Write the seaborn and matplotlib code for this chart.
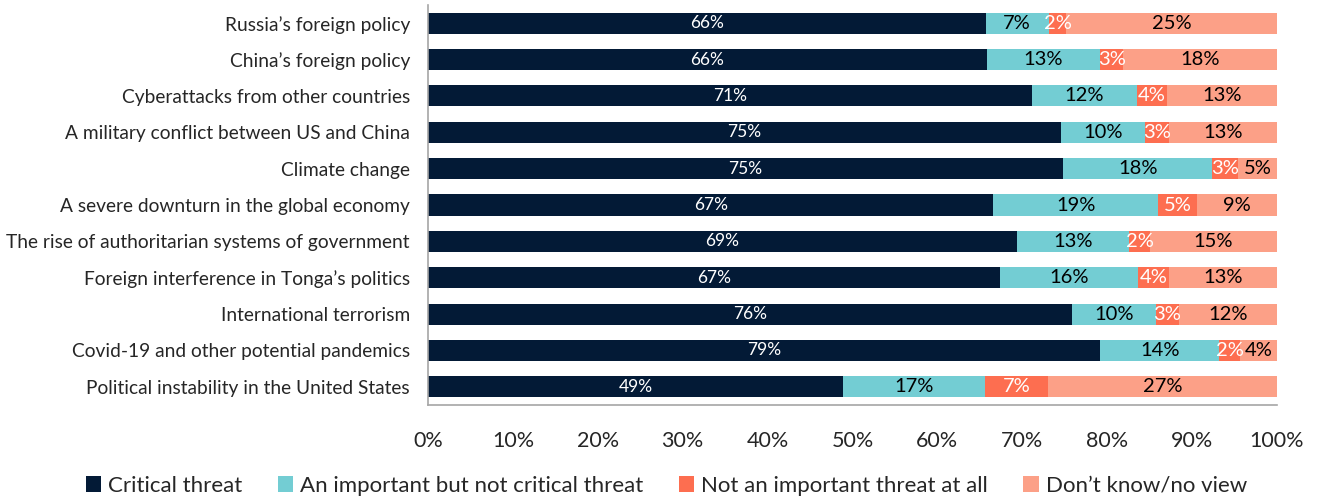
import numpy as np
import pandas as pd
import matplotlib
matplotlib.use("Agg")
import matplotlib.pyplot as plt
import seaborn as sns
from matplotlib.patches import Patch

threats = [
    "Russia\u2019s foreign policy",
    "China\u2019s foreign policy",
    "Cyberattacks from other countries",
    "A military conflict between US and China",
    "Climate change",
    "A severe downturn in the global economy",
    "The rise of authoritarian systems of government",
    "Foreign interference in Tonga\u2019s politics",
    "International terrorism",
    "Covid-19 and other potential pandemics",
    "Political instability in the United States",
]
critical = [65.7, 65.8, 71.1, 74.6, 74.8, 66.6, 69.4, 67.4, 75.9, 79.2, 48.9]
important = [7.4, 13.4, 12.4, 9.9, 17.6, 19.4, 13.2, 16.2, 9.8, 14.0, 16.7]
not_important = [2.1, 2.7, 3.6, 2.8, 3.0, 4.6, 2.4, 3.7, 2.7, 2.4, 7.4]
dont_know = [24.8, 18.1, 12.9, 12.7, 4.6, 9.4, 15.0, 12.7, 11.6, 4.4, 27.0]

series_names = [
    "Critical threat",
    "An important but not critical threat",
    "Not an important threat at all",
    "Don\u2019t know/no view",
]
series_values = [critical, important, not_important, dont_know]
colors = ["#031a36", "#73cdd3", "#fd6e50", "#fca087"]
label_colors = ["white", "black", "white", "black"]
label_sizes = [12.5, 14.5, 14.5, 14.5]
tick_labels = [f"{v}%" for v in range(0, 101, 10)]

sns.set_theme(style="white")
plt.rcParams["font.family"] = ["Lato", "DejaVu Sans"]

df = pd.DataFrame({"threat": threats})
for name, vals in zip(series_names, series_values):
    df[name] = vals
cum = df[series_names].cumsum(axis=1)

fig = plt.figure(figsize=(13.17, 5.01), dpi=100)
ax = fig.add_axes([428 / 1317, 1 - 405 / 501, 849 / 1317, 400 / 501])

# Draw cumulative totals from the outermost layer inward so each segment shows
for name, col in reversed(list(zip(series_names, colors))):
    sns.barplot(data=cum.assign(threat=df["threat"]), x=name, y="threat",
                orient="h", color=col, width=0.58, saturation=1,
                linewidth=0, ax=ax)

# Value labels centred in each segment
for i in range(len(threats)):
    left = 0.0
    for j, name in enumerate(series_names):
        v = df.loc[i, name]
        ax.text(left + v / 2, i, f"{round(v):.0f}%", ha="center", va="center",
                color=label_colors[j], fontsize=label_sizes[j])
        left += v

ax.set_xlim(0, 100)
ax.set_ylim(len(threats) - 0.5, -0.5)
ax.set_xticks(range(0, 101, 10))
ax.set_xticklabels(tick_labels, fontsize=15.5)
ax.set_xlabel("")
ax.set_ylabel("")
ax.tick_params(axis="y", labelsize=13.8, length=0, pad=13)
ax.tick_params(axis="x", length=0, pad=19)
for side in ["top", "right"]:
    ax.spines[side].set_visible(False)
for side in ["left", "bottom"]:
    ax.spines[side].set_color("#a6a6a6")
    ax.spines[side].set_linewidth(1.2)

handles = [Patch(facecolor=c, edgecolor="none") for c in colors]
fig.legend(handles, series_names, loc="center", bbox_to_anchor=(0.506, 0.03),
           ncol=4, frameon=False, fontsize=16, handlelength=0.7,
           handleheight=0.7, handletextpad=0.3, columnspacing=1.6)

fig.savefig("out.png", dpi=100)
